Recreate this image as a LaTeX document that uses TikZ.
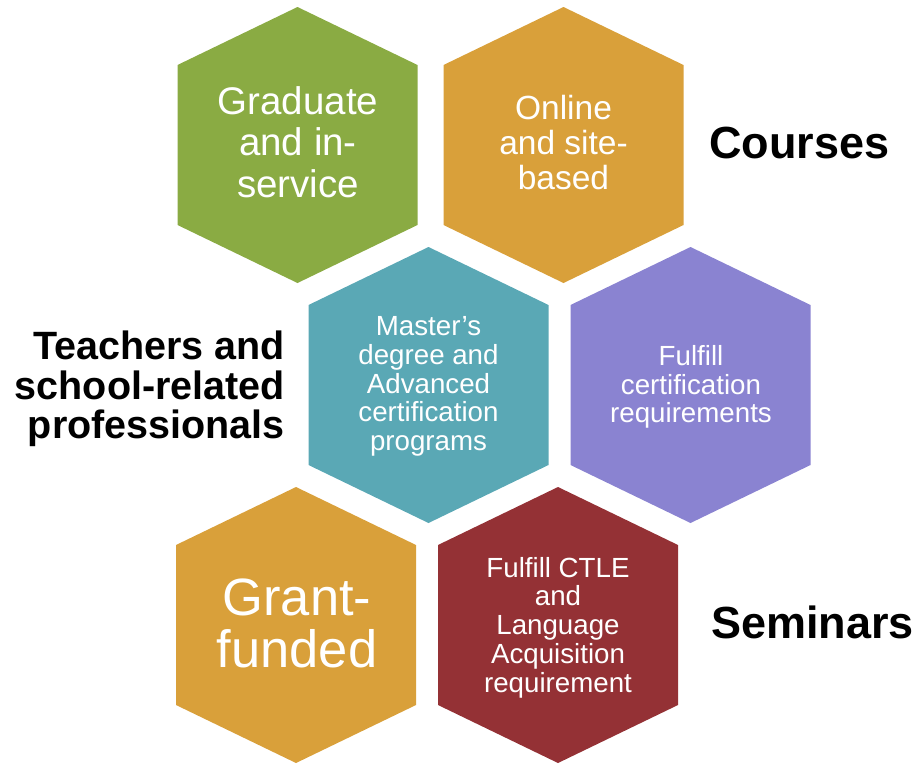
\documentclass[tikz,border=0pt]{standalone}
\usepackage{fontspec}
\setmainfont{Liberation Sans}
\usepackage{xcolor}
\definecolor{hexgreen}{HTML}{8AAB43}
\definecolor{hexorange}{HTML}{D9A03A}
\definecolor{hexteal}{HTML}{5AA8B5}
\definecolor{hexpurple}{HTML}{8A83D1}
\definecolor{hexred}{HTML}{943135}
\newcommand{\hexpath}{+(0,-138) -- +(120,-80) -- +(120,80) -- +(0,138) -- +(-120,80) -- +(-120,-80) -- cycle}

\begin{document}
\begin{tikzpicture}[x=1pt,y=-1pt,
  celltext/.style={text=white,align=center,inner sep=0pt},
  sidelabel/.style={inner sep=0pt,text=black}
]
\useasboundingbox (0,0) rectangle (915,763);

% hexagon cells
\fill[hexgreen]  (297.5,145) \hexpath;
\fill[hexorange] (563.5,145) \hexpath;
\fill[hexteal]   (428.5,385) \hexpath;
\fill[hexpurple] (690.5,385) \hexpath;
\fill[hexorange] (296,625)   \hexpath;
\fill[hexred]    (558,625)   \hexpath;

% cell texts
\node[celltext,font=\fontsize{38.5}{41.5}\selectfont] (grad) at (298,142) {Graduate\\and in-\\service};
\node[celltext,font=\fontsize{33.5}{35}\selectfont] (online) at (563.5,143) {Online\\and site-\\based};
\node[celltext,font=\fontsize{27.7}{28.7}\selectfont] (master) at (428.5,386.5) {Master’s\\degree and\\Advanced\\certification\\programs};
\node[celltext,font=\fontsize{27.7}{28.7}\selectfont] (certif) at (691,387) {Fulfill\\certification\\requirements};
\node[celltext,font=\fontsize{52.5}{52}\selectfont] (grant) at (297,623.5) {Grant-\\funded};
\node[celltext,font=\fontsize{27.7}{28.7}\selectfont] (ctle) at (558,627.5) {Fulfill CTLE\\and\\Language\\Acquisition\\requirement};

% side labels
\node[sidelabel,anchor=west,font=\fontsize{45}{46}\selectfont\bfseries] (courses) at (709,143.5) {Courses};
\node[sidelabel,anchor=west,font=\fontsize{45}{46}\selectfont\bfseries] (seminars) at (711,622) {Seminars};
\node[sidelabel,anchor=east,align=right,font=\fontsize{39.5}{39.5}\selectfont\bfseries] (teachers) at (285,389) {Teachers and\\school-related\\professionals};
\end{tikzpicture}
\end{document}
